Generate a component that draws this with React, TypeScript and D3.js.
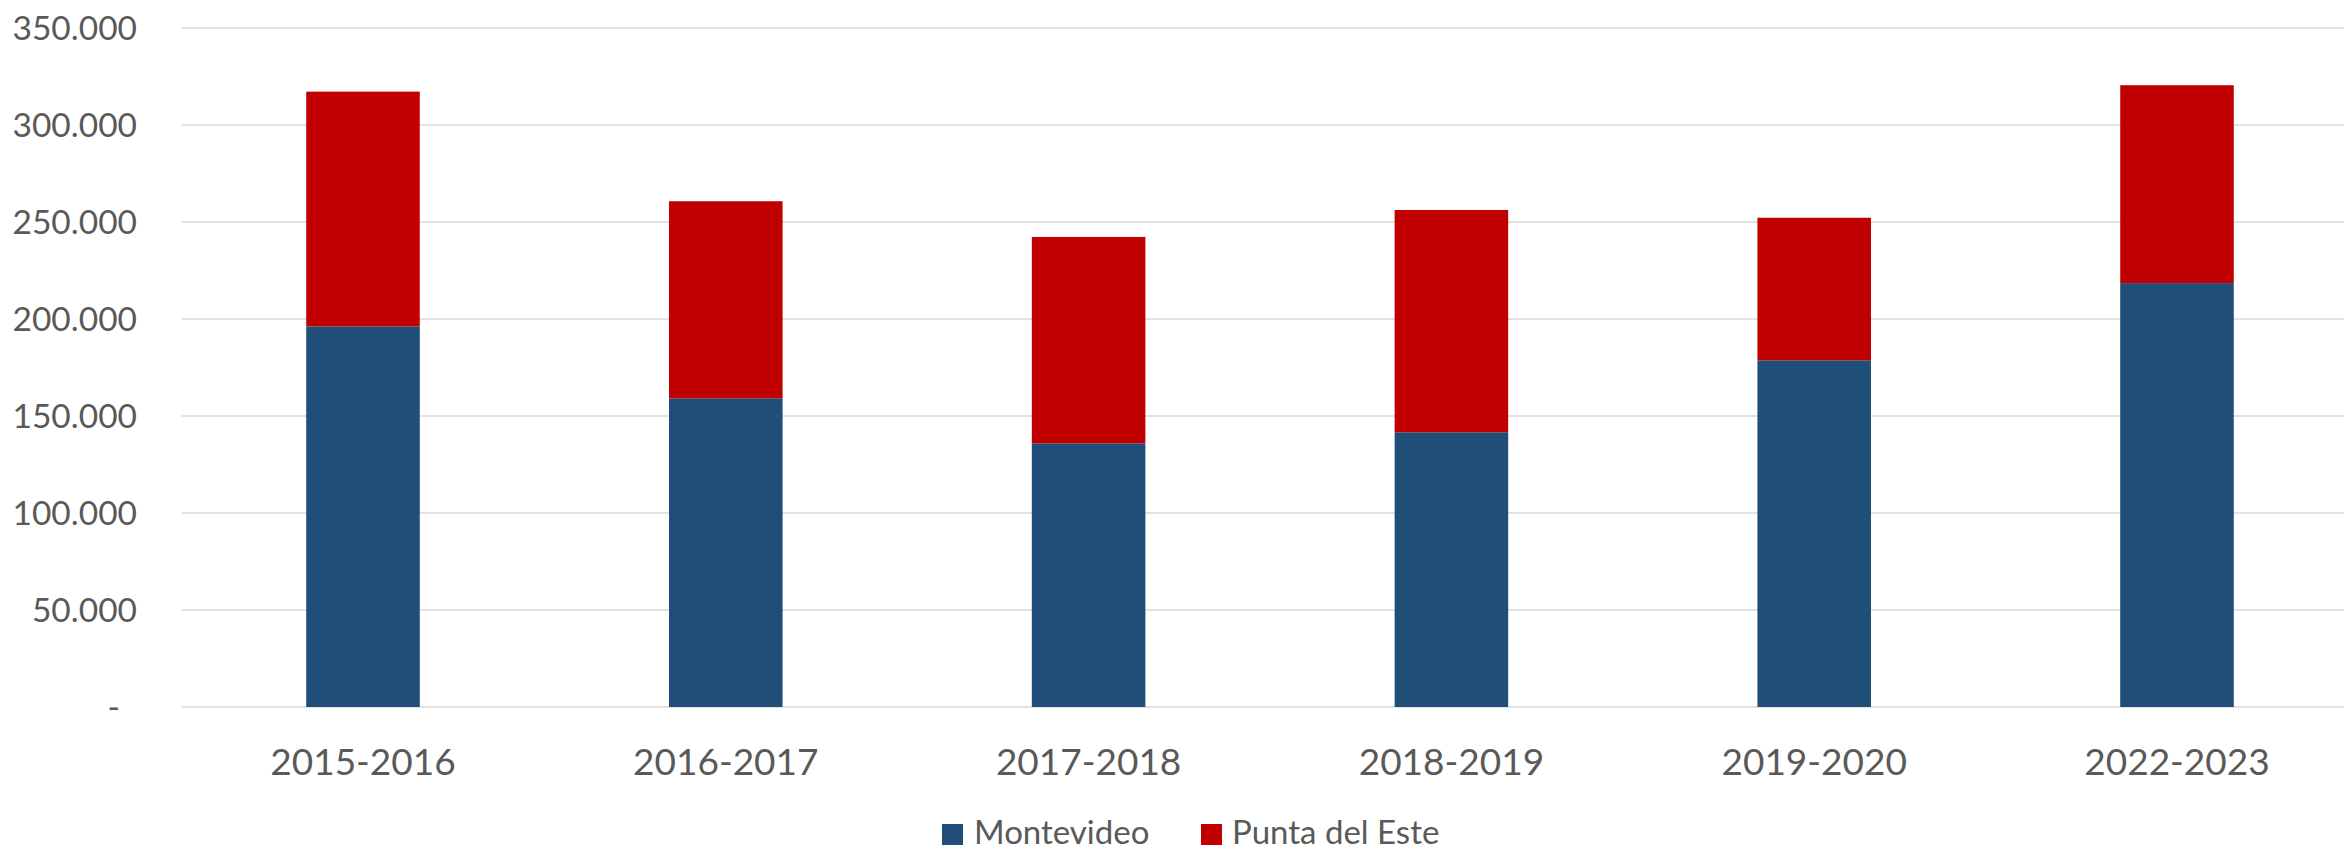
import React from "react";
import * as d3 from "d3";

const categories = ["2015-2016", "2016-2017", "2017-2018", "2018-2019", "2019-2020", "2022-2023"];
const montevideo = [196200, 159100, 135900, 141600, 178700, 218500];
const puntaDelEste = [121000, 101600, 106400, 114600, 73500, 102000];
const yTicks = [0, 50000, 100000, 150000, 200000, 250000, 300000, 350000];
const seriesNames = ["Montevideo", "Punta del Este"];
const seriesColors = ["#1F4E79", "#C00000"];

const W = 2344;
const H = 850;
const FONT = "Lato, 'Open Sans', sans-serif";
const TEXT = "#595959";

function fmt(v: number): string {
  if (v === 0) return "-";
  return d3.format(",")(v).replace(/,/g, ".");
}

export default function App() {
  const x = d3.scaleBand<string>().domain(categories).range([181.6, 2358.4]).paddingInner(0.687).paddingOuter(0.3435);
  const y = d3.scaleLinear().domain([0, 350000]).range([707, 28]);

  const data = categories.map((c, i) => ({ cat: c, Montevideo: montevideo[i], "Punta del Este": puntaDelEste[i] }));
  const stacked = d3.stack<any>().keys(seriesNames)(data);

  return (
    <svg width={W} height={H} style={{ position: "absolute", left: 0, top: 0, background: "#fff" }} fontFamily={FONT}>
      {yTicks.map((t) => (
        <g key={t}>
          <line x1={181.6} x2={2358.4} y1={y(t)} y2={y(t)} stroke="#D9D9D9" strokeWidth={1.5} />
          <text
            x={t === 0 ? 120 : 137}
            y={y(t)}
            dy="0.35em"
            textAnchor="end"
            fontSize={33.5}
            fill={TEXT}
          >
            {fmt(t)}
          </text>
        </g>
      ))}
      {stacked.map((s, si) => (
        <g key={s.key} fill={seriesColors[si]}>
          {s.map((d, i) => (
            <rect
              key={i}
              x={x(categories[i])}
              width={x.bandwidth()}
              y={y(d[1])}
              height={y(d[0]) - y(d[1])}
            />
          ))}
        </g>
      ))}
      {categories.map((c) => (
        <text key={c} x={(x(c) as number) + x.bandwidth() / 2} y={775} textAnchor="middle" fontSize={37} fill={TEXT}>
          {c}
        </text>
      ))}
      <g>
        <rect x={942} y={824} width={21} height={21} fill={seriesColors[0]} />
        <text x={974} y={844} fontSize={33} fill={TEXT}>{seriesNames[0]}</text>
        <rect x={1201} y={824} width={21} height={21} fill={seriesColors[1]} />
        <text x={1232} y={844} fontSize={33} fill={TEXT}>{seriesNames[1]}</text>
      </g>
    </svg>
  );
}
